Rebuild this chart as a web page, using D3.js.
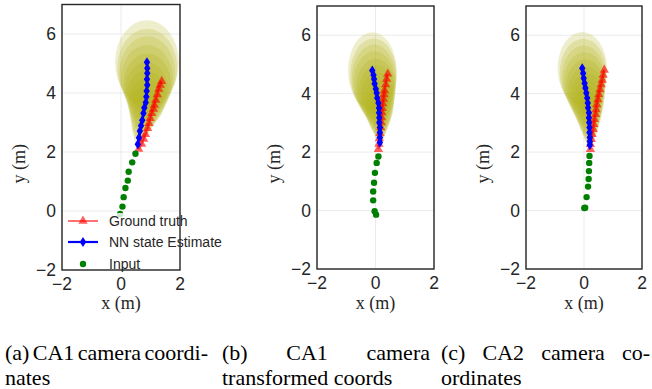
<!DOCTYPE html>
<html>
<head>
<meta charset="utf-8">
<script src="https://cdn.jsdelivr.net/npm/d3@7"></script>
<style>
  body { margin: 0; background: #fff; }
  svg { display: block; }
</style>
</head>
<body>
<svg id="chart" width="652" height="389"></svg>
<script>
// axis setup
const xDomain = [-2, 2];
const yDomain = [-2, 7];
const xTicks = [-2, 0, 2];
const yTicks = [-2, 0, 2, 4, 6];

// (a) CA1 camera coordinates
const gtA = [[0.60, 2.10], [0.70, 2.27], [0.77, 2.44], [0.83, 2.60], [0.90, 2.80], [0.95, 2.97], [0.99, 3.14], [1.04, 3.31],
  [1.10, 3.46], [1.13, 3.59], [1.18, 3.76], [1.23, 3.95], [1.28, 4.13], [1.33, 4.27], [1.38, 4.40]];
const nnA = [[0.57, 2.26], [0.61, 2.48], [0.64, 2.71], [0.68, 2.89], [0.72, 3.08], [0.76, 3.31], [0.79, 3.50], [0.84, 3.68],
  [0.86, 3.87], [0.87, 4.07], [0.89, 4.27], [0.88, 4.47], [0.89, 4.67], [0.89, 4.84], [0.88, 5.04]];
const inA = [[-0.03, -0.10], [0.05, 0.15], [0.09, 0.47], [0.15, 0.78], [0.23, 1.03], [0.26, 1.33], [0.38, 1.65], [0.49, 1.94]];
const rxA = [0.09, 0.17, 0.25, 0.32, 0.39, 0.46, 0.53, 0.60, 0.67, 0.74, 0.81, 0.88, 0.95, 1.02, 1.08];
const ryA = [0.12, 0.22, 0.32, 0.42, 0.51, 0.61, 0.70, 0.80, 0.89, 0.98, 1.07, 1.16, 1.25, 1.34, 1.43];

// (b) CA1 camera transformed coords
const gtB = [[0.10, 2.10], [0.12, 2.28], [0.13, 2.46], [0.15, 2.64], [0.18, 2.84], [0.20, 3.01], [0.21, 3.18], [0.22, 3.35],
  [0.23, 3.50], [0.25, 3.66], [0.27, 3.82], [0.29, 3.97], [0.31, 4.11], [0.35, 4.31], [0.38, 4.50], [0.42, 4.68]];
const nnB = [[0.15, 2.33], [0.15, 2.50], [0.15, 2.67], [0.15, 2.84], [0.13, 3.01], [0.13, 3.18], [0.12, 3.35], [0.12, 3.51],
  [0.10, 3.68], [0.06, 3.85], [0.04, 4.02], [0.01, 4.16], [-0.03, 4.34], [-0.05, 4.50], [-0.07, 4.64], [-0.11, 4.79]];
const inB = [[0.02, -0.14], [-0.03, -0.02], [-0.08, 0.35], [-0.08, 0.65], [-0.05, 0.95], [-0.02, 1.29], [0.04, 1.63], [0.10, 1.85]];
const rxB = [0.07, 0.13, 0.19, 0.25, 0.31, 0.37, 0.43, 0.48, 0.53, 0.58, 0.63, 0.68, 0.72, 0.76, 0.80, 0.83];
const ryB = [0.10, 0.19, 0.28, 0.37, 0.46, 0.55, 0.64, 0.72, 0.80, 0.88, 0.96, 1.04, 1.11, 1.18, 1.25, 1.31];

// (c) CA2 camera coordinates
const gtC = [[0.22, 2.10], [0.22, 2.27], [0.25, 2.44], [0.28, 2.61], [0.32, 2.78], [0.34, 2.95], [0.36, 3.12], [0.40, 3.29],
  [0.42, 3.46], [0.44, 3.63], [0.48, 3.80], [0.51, 3.97], [0.55, 4.14], [0.59, 4.31], [0.63, 4.47], [0.66, 4.64], [0.70, 4.81]];
const nnC = [[0.20, 2.24], [0.20, 2.36], [0.20, 2.50], [0.19, 2.67], [0.19, 2.84], [0.18, 3.01], [0.17, 3.18], [0.17, 3.35],
  [0.14, 3.52], [0.13, 3.68], [0.11, 3.85], [0.08, 4.02], [0.05, 4.19], [0.02, 4.36], [-0.01, 4.53], [-0.03, 4.70], [-0.06, 4.87]];
const inC = [[0.01, 0.09], [0.04, 0.10], [0.09, 0.46], [0.14, 0.82], [0.16, 1.08], [0.17, 1.35], [0.18, 1.63], [0.19, 1.87]];
const rxC = [0.06, 0.12, 0.17, 0.23, 0.28, 0.34, 0.39, 0.44, 0.49, 0.54, 0.59, 0.64, 0.68, 0.72, 0.76, 0.81, 0.85];
const ryC = [0.09, 0.17, 0.25, 0.33, 0.41, 0.49, 0.57, 0.64, 0.71, 0.78, 0.85, 0.92, 0.99, 1.06, 1.12, 1.18, 1.24];

const legendLabels = ['Ground truth', 'NN state Estimate', 'Input'];
const captions = [
  ['(a) CA1 camera coordi-', 'nates'],
  ['(b) CA1 camera', 'transformed coords'],
  ['(c) CA2 camera co-', 'ordinates']
];

const panels = [
  { gt: gtA, nn: nnA, inp: inA, rx: rxA, ry: ryA, left: 62, right: 180, top: 4.5, bottom: 270, legend: true, cap: [5, 208] },
  { gt: gtB, nn: nnB, inp: inB, rx: rxB, ry: ryB, left: 317, right: 434, top: 6, bottom: 269, legend: false, cap: [222, 430] },
  { gt: gtC, nn: nnC, inp: inC, rx: rxC, ry: ryC, left: 526, right: 642, top: 6, bottom: 269, legend: false, cap: [441, 650] }
];

const svg = d3.select('#chart');
const tickFont = '"Liberation Sans", Arial, sans-serif';
const serif = '"Liberation Serif", "Times New Roman", serif';

const diamond = 'M0,-5L3.2,0L0,5L-3.2,0Z';
const triangle = d3.symbol().type(d3.symbolTriangle).size(38);
const capScale = 1.1;

panels.forEach((p, pi) => {
  const x = d3.scaleLinear().domain(xDomain).range([p.left, p.right]);
  const y = d3.scaleLinear().domain(yDomain).range([p.bottom, p.top]);
  const g = svg.append('g');

  // grid
  g.selectAll('.gx').data(xTicks).enter().append('line')
    .attr('x1', d => x(d)).attr('x2', d => x(d))
    .attr('y1', p.top).attr('y2', p.bottom)
    .attr('stroke', '#ebebeb').attr('stroke-width', 1);
  g.selectAll('.gy').data(yTicks).enter().append('line')
    .attr('x1', p.left).attr('x2', p.right)
    .attr('y1', d => y(d)).attr('y2', d => y(d))
    .attr('stroke', '#ebebeb').attr('stroke-width', 1);

  // uncertainty ellipses
  g.selectAll('.ell').data(p.nn).enter().append('ellipse')
    .attr('cx', d => x(d[0]))
    .attr('cy', d => y(d[1]))
    .attr('rx', (d, i) => x(d[0] + p.rx[i]) - x(d[0]))
    .attr('ry', (d, i) => y(d[1]) - y(d[1] + p.ry[i]))
    .attr('fill', '#b3b318')
    .attr('fill-opacity', 0.22);

  const line = d3.line().x(d => x(d[0])).y(d => y(d[1]));

  // ground truth
  g.append('path').datum(p.gt).attr('d', line)
    .attr('fill', 'none').attr('stroke', '#ff0000').attr('stroke-opacity', 0.55).attr('stroke-width', 2);
  g.selectAll('.gt').data(p.gt).enter().append('path')
    .attr('d', triangle)
    .attr('transform', d => `translate(${x(d[0])},${y(d[1])})`)
    .attr('fill', '#ff0000').attr('fill-opacity', 0.62);

  // NN estimate
  g.append('path').datum(p.nn).attr('d', line)
    .attr('fill', 'none').attr('stroke', '#0000ff').attr('stroke-width', 2.2);
  g.selectAll('.nn').data(p.nn).enter().append('path')
    .attr('d', diamond)
    .attr('transform', d => `translate(${x(d[0])},${y(d[1])})`)
    .attr('fill', '#0000ff');

  // input
  g.selectAll('.inp').data(p.inp).enter().append('circle')
    .attr('cx', d => x(d[0])).attr('cy', d => y(d[1])).attr('r', 3.2)
    .attr('fill', '#008000');

  if (p.legend) {
    g.append('rect').attr('x', p.left + 2).attr('y', 213).attr('width', 160).attr('height', 55)
      .attr('fill', '#fff').attr('fill-opacity', 0.8);
  }

  // frame
  g.append('rect').attr('x', p.left).attr('y', p.top)
    .attr('width', p.right - p.left).attr('height', p.bottom - p.top)
    .attr('fill', 'none').attr('stroke', '#262626').attr('stroke-width', 1.4);

  // tick labels
  const fmt = d => d < 0 ? '\u2212' + Math.abs(d) : d;
  g.selectAll('.xt').data(xTicks).enter().append('text')
    .attr('x', d => x(d)).attr('y', p.bottom + 20)
    .attr('text-anchor', 'middle')
    .attr('font-family', tickFont).attr('font-size', 17.5).attr('fill', '#262626')
    .text(fmt);
  g.selectAll('.yt').data(yTicks).enter().append('text')
    .attr('x', p.left - 6).attr('y', d => y(d) + 6)
    .attr('text-anchor', 'end')
    .attr('font-family', tickFont).attr('font-size', 17.5).attr('fill', '#262626')
    .text(fmt);

  // axis labels
  g.append('text')
    .attr('x', (p.left + p.right) / 2).attr('y', 309)
    .attr('text-anchor', 'middle')
    .attr('font-family', serif).attr('font-size', 18).attr('fill', '#262626')
    .text('x (m)');
  g.append('text')
    .attr('transform', `translate(${p.left - 37},${y(1.6)}) rotate(-90)`)
    .attr('text-anchor', 'middle')
    .attr('font-family', serif).attr('font-size', 18).attr('fill', '#262626')
    .text('y (m)');

  // legend
  if (p.legend) {
    const rows = [221, 242, 264];
    const lg = g.append('g');
    lg.append('line').attr('x1', 68).attr('x2', 98).attr('y1', rows[0]).attr('y2', rows[0])
      .attr('stroke', '#ff0000').attr('stroke-opacity', 0.55).attr('stroke-width', 2);
    lg.append('path').attr('d', triangle).attr('transform', `translate(83,${rows[0]})`)
      .attr('fill', '#ff0000').attr('fill-opacity', 0.62);
    lg.append('line').attr('x1', 68).attr('x2', 98).attr('y1', rows[1]).attr('y2', rows[1])
      .attr('stroke', '#0000ff').attr('stroke-width', 2.2);
    lg.append('path').attr('d', diamond).attr('transform', `translate(83,${rows[1]})`).attr('fill', '#0000ff');
    lg.append('circle').attr('cx', 83).attr('cy', rows[2]).attr('r', 3.2).attr('fill', '#008000');
    lg.selectAll('.lt').data(legendLabels).enter().append('text')
      .attr('x', 109).attr('y', (d, i) => rows[i] + 5)
      .attr('font-family', tickFont).attr('font-size', 14).attr('fill', '#262626')
      .text(d => d);
  }

  // caption: first line justified, last line left aligned
  const cap = captions[pi];
  const cg = svg.append('g').attr('font-family', serif).attr('font-size', 20).attr('fill', '#000');
  const words = cap[0].split(' ');
  const texts = words.map(w => cg.append('text').text(w));
  const widths = texts.map(t => t.node().getComputedTextLength() * capScale);
  const gap = (p.cap[1] - p.cap[0] - d3.sum(widths)) / (words.length - 1);
  let cx = p.cap[0];
  texts.forEach((t, i) => {
    t.attr('transform', `translate(${cx},360) scale(${capScale},1)`);
    cx += widths[i] + gap;
  });
  cg.append('text').attr('transform', `translate(${p.cap[0]},385) scale(${capScale},1)`).text(cap[1]);
});
</script>
</body>
</html>
